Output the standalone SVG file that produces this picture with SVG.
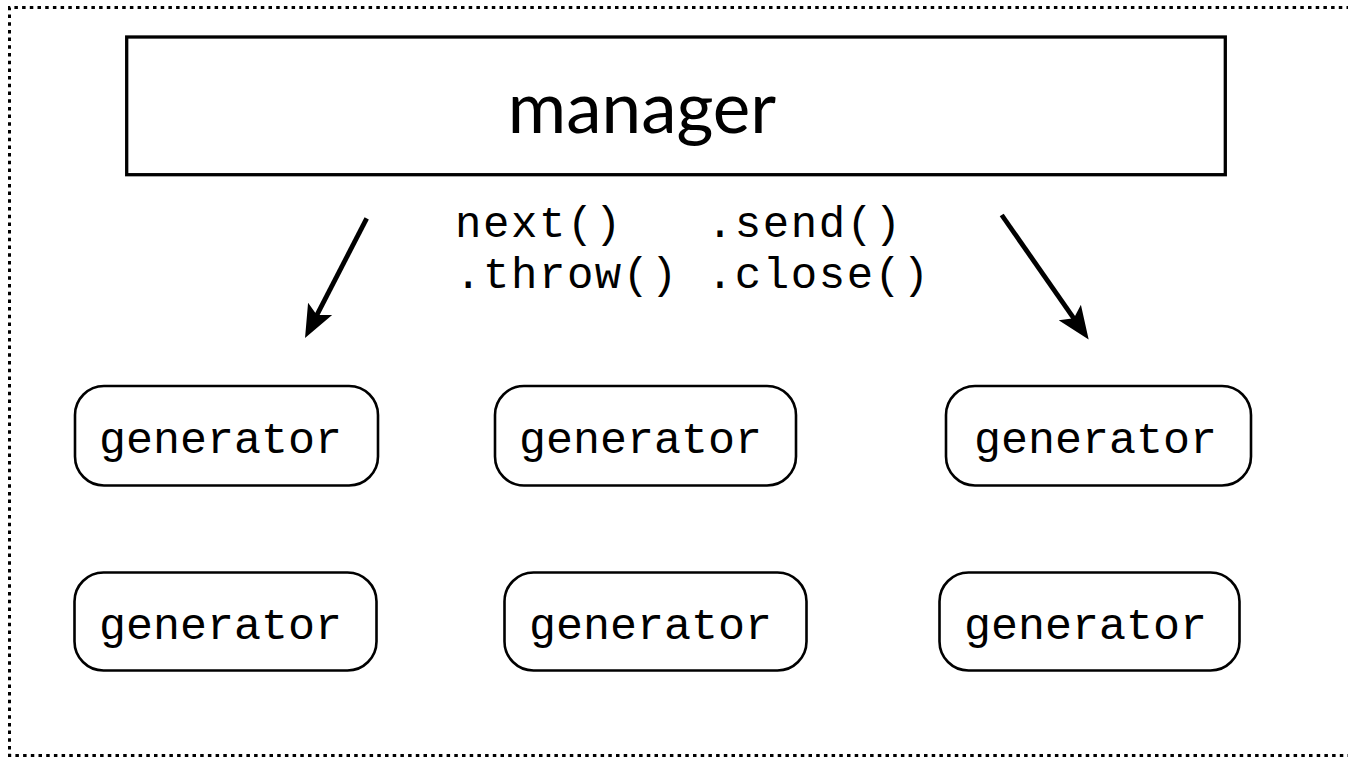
<svg xmlns="http://www.w3.org/2000/svg" width="1348" height="757" viewBox="0 0 1348 757">
<style>
.gen rect{fill:#fff;stroke:#000;stroke-width:2.6}
.mono{font-family:"Liberation Mono","DejaVu Sans Mono",monospace;font-size:45px;fill:#000}
.meth{font-family:"Liberation Mono","DejaVu Sans Mono",monospace;font-size:44px;fill:#000}
.conn line{stroke:#000;stroke-width:4.8}
</style>
<defs>
<marker id="ah" markerUnits="userSpaceOnUse" markerWidth="40" markerHeight="40" viewBox="-30 -15 34 30" refX="-20" refY="0" orient="auto">
<polygon points="0,0 -28,-11.5 -22,0 -28,11.5" fill="#000"/>
</marker>
</defs>
<rect x="0" y="0" width="1348" height="757" fill="#fff"/>
<path d="M1350,7.5 H9.5 V755.5 H1350" fill="none" stroke="#000" stroke-width="3" stroke-dasharray="3.5 4.2"/>
<g id="manager">
<rect x="126.7" y="37" width="1098.6" height="137.7" fill="#fff" stroke="#000" stroke-width="3.3"/>
<text x="642" y="133" text-anchor="middle" font-family="Lato,'Open Sans',sans-serif" font-size="71">manager</text>
</g>
<g id="methods">
<text class="meth" xml:space="preserve"><tspan x="455" y="237" textLength="446" lengthAdjust="spacing">next()   .send()</tspan><tspan x="455" y="287.5" textLength="474" lengthAdjust="spacing">.throw() .close()</tspan></text>
</g>
<g class="conn" id="connectors">
<line x1="366.7" y1="218.3" x2="315.8" y2="317.2" marker-end="url(#ah)"/>
<line x1="1001.7" y1="215" x2="1075.2" y2="320.3" marker-end="url(#ah)"/>
</g>
<g id="gen1" class="gen"><rect x="75" y="386" width="303" height="99.5" rx="29"/><text class="mono" x="99" y="453">generator</text></g>
<g id="gen2" class="gen"><rect x="495" y="386" width="301" height="99.5" rx="29"/><text class="mono" x="519" y="453">generator</text></g>
<g id="gen3" class="gen"><rect x="946" y="386" width="305" height="99.5" rx="29"/><text class="mono" x="974" y="453">generator</text></g>
<g id="gen4" class="gen"><rect x="74.5" y="572.5" width="302" height="98" rx="29"/><text class="mono" x="99" y="639">generator</text></g>
<g id="gen5" class="gen"><rect x="504.5" y="572.5" width="302" height="98" rx="29"/><text class="mono" x="529" y="639">generator</text></g>
<g id="gen6" class="gen"><rect x="939.5" y="572.5" width="300" height="98" rx="29"/><text class="mono" x="964" y="639">generator</text></g>
</svg>
